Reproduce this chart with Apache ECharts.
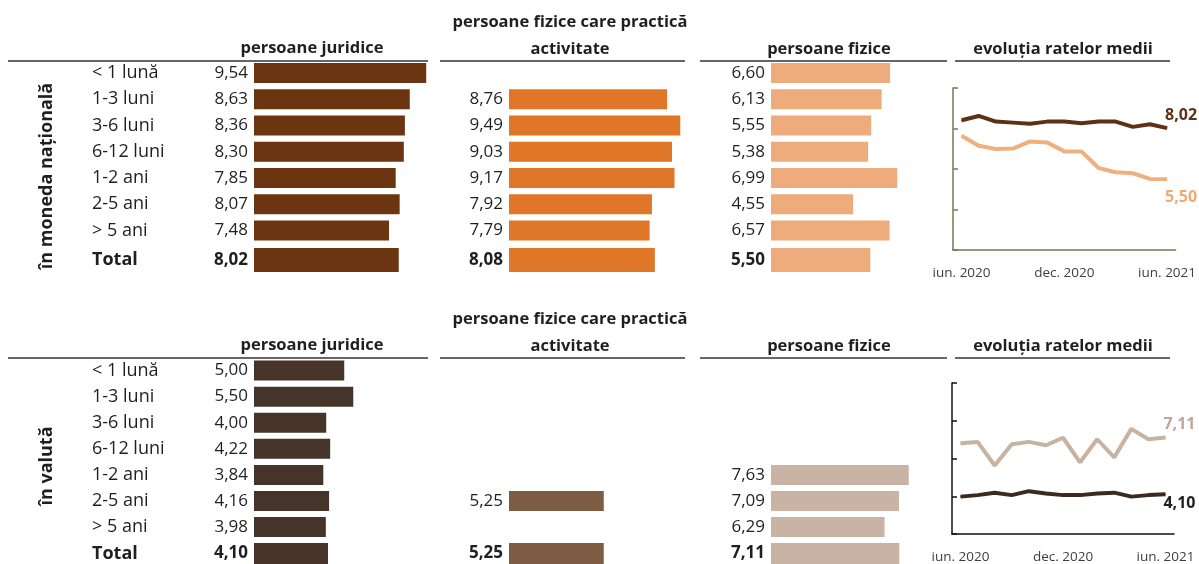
<!DOCTYPE html>
<html>
<head>
<meta charset="utf-8">
<script src="https://cdn.jsdelivr.net/npm/echarts@6/dist/echarts.min.js"></script>
<style>
  html, body { margin: 0; padding: 0; background: #fff; }
  #chart { width: 1199px; height: 564px; }
</style>
</head>
<body>
<div id="chart"></div>
<script>
// termene (scadente)
const termene = ['< 1 lună', '1-3 luni', '3-6 luni', '6-12 luni', '1-2 ani', '2-5 ani', '> 5 ani'];
const totalCat = ['Total'];

// rate medii, moneda nationala
const mdlJuridice = [9.54, 8.63, 8.36, 8.30, 7.85, 8.07, 7.48];
const mdlActivitate = [null, 8.76, 9.49, 9.03, 9.17, 7.92, 7.79];
const mdlFizice = [6.60, 6.13, 5.55, 5.38, 6.99, 4.55, 6.57];
const mdlTotal = [8.02, 8.08, 5.50];

// rate medii, valuta
const valJuridice = [5.00, 5.50, 4.00, 4.22, 3.84, 4.16, 3.98];
const valActivitate = [null, null, null, null, null, 5.25, null];
const valFizice = [null, null, null, null, 7.63, 7.09, 6.29];
const valTotal = [4.10, 5.25, 7.11];

// evolutia ratelor medii
const luni = ['iun. 2020', 'iul. 2020', 'aug. 2020', 'sep. 2020', 'oct. 2020', 'nov. 2020', 'dec. 2020',
  'ian. 2021', 'feb. 2021', 'mar. 2021', 'apr. 2021', 'mai 2021', 'iun. 2021'];
const evMdlJuridice = [8.41, 8.62, 8.34, 8.29, 8.24, 8.34, 8.34, 8.26, 8.34, 8.34, 8.08, 8.21, 8.02];
const evMdlFizice = [7.64, 7.15, 6.99, 7.01, 7.36, 7.31, 6.87, 6.87, 6.05, 5.84, 5.79, 5.51, 5.50];
const evValJuridice = [3.98, 4.06, 4.19, 4.06, 4.27, 4.15, 4.06, 4.06, 4.15, 4.19, 3.98, 4.06, 4.10];
const evValFizice = [6.81, 6.88, 5.63, 6.76, 6.88, 6.70, 7.10, 5.80, 7.02, 6.06, 7.57, 7.02, 7.11];

const FONT = '"Open Sans", sans-serif';
const TXT = '#1f1f1f';
const fmt = v => v.toFixed(2).replace('.', ',');

const grids = [], xAxes = [], yAxes = [], series = [];

function addBars(left, top, height, cats, vals, color, isTotal, showCats) {
  const i = grids.length;
  grids.push({ left, top, width: 180.5, height });
  xAxes.push({ gridIndex: i, type: 'value', min: 0, max: 10, show: false });
  yAxes.push({
    gridIndex: i, type: 'category', data: cats, inverse: true,
    axisLine: { show: false }, axisTick: { show: false }, splitLine: { show: false },
    axisLabel: {
      show: showCats, align: 'left', margin: left - 92, color: TXT,
      fontSize: 18, fontFamily: FONT, fontWeight: isTotal ? 'bold' : 'normal'
    }
  });
  series.push({
    type: 'bar', xAxisIndex: i, yAxisIndex: i, data: vals,
    barWidth: isTotal ? 24 : 20, itemStyle: { color }, silent: true,
    label: {
      show: true, position: 'left', distance: 6, color: TXT,
      fontSize: 17, fontFamily: FONT, fontWeight: isTotal ? 'bold' : 'normal',
      formatter: p => fmt(p.value)
    }
  });
}

function addLines(box, axisColor, lines) {
  const i = grids.length;
  grids.push(box);
  xAxes.push({
    gridIndex: i, type: 'category', data: luni, boundaryGap: true,
    axisLine: { lineStyle: { color: axisColor, width: 1.5 } },
    axisTick: { interval: 0, length: 5, lineStyle: { color: axisColor, width: 1.5 } },
    axisLabel: { interval: 5, margin: 16, color: '#404040', fontSize: 13.5, fontFamily: FONT }
  });
  yAxes.push({
    gridIndex: i, type: 'value', min: 2, max: 10, interval: 2,
    axisLine: { show: true, lineStyle: { color: axisColor, width: 1.5 } },
    axisTick: { show: true, inside: true, length: 5, lineStyle: { color: axisColor, width: 1.5 } },
    axisLabel: { show: false }, splitLine: { show: false }
  });
  lines.forEach(l => {
    const n = l.data.length;
    series.push({
      type: 'line', xAxisIndex: i, yAxisIndex: i, silent: true,
      symbol: 'circle', symbolSize: 1, showSymbol: true,
      lineStyle: { color: l.color, width: 4 }, itemStyle: { color: l.color },
      data: l.data.map((v, k) => k === n - 1 ? {
        value: v,
        label: {
          show: true, position: l.pos, distance: l.dist, offset: [14, 0],
          formatter: () => fmt(l.total), color: l.labelColor, fontSize: 16,
          fontWeight: 'bold', fontFamily: FONT
        }
      } : v)
    });
  });
}

// moneda nationala
addBars(254, 59.9, 183.75, termene, mdlJuridice, '#6a3510', false, true);
addBars(509, 59.9, 183.75, termene, mdlActivitate, '#e07628', false, false);
addBars(771, 59.9, 183.75, termene, mdlFizice, '#eeab7b', false, false);
addBars(254, 247, 26, totalCat, [mdlTotal[0]], '#6a3510', true, true);
addBars(509, 247, 26, totalCat, [mdlTotal[1]], '#e07628', true, false);
addBars(771, 247, 26, totalCat, [mdlTotal[2]], '#eeab7b', true, false);

// valuta
addBars(254, 357.5, 182.6, termene, valJuridice, '#46342a', false, true);
addBars(509, 357.5, 182.6, termene, valActivitate, '#7e5c44', false, false);
addBars(771, 357.5, 182.6, termene, valFizice, '#c8b3a4', false, false);
addBars(254, 543, 26, totalCat, [valTotal[0]], '#46342a', true, true);
addBars(509, 543, 26, totalCat, [valTotal[1]], '#7e5c44', true, false);
addBars(771, 543, 26, totalCat, [valTotal[2]], '#c8b3a4', true, false);

addLines({ left: 953, top: 88, width: 223, height: 162 }, '#77774f', [
  { data: evMdlJuridice, total: mdlTotal[0], color: '#5e3116', labelColor: '#5e3116', pos: 'top', dist: 4 },
  { data: evMdlFizice, total: mdlTotal[2], color: '#f0b07d', labelColor: '#f0aa75', pos: 'bottom', dist: 10 }
]);
addLines({ left: 952, top: 383, width: 222, height: 153 }, '#111', [
  { data: evValJuridice, total: valTotal[0], color: '#3a2a20', labelColor: '#1f1f1f', pos: 'bottom', dist: 1 },
  { data: evValFizice, total: valTotal[2], color: '#c8b2a2', labelColor: '#bfa797', pos: 'top', dist: 5 }
]);

// antete si linii
const heads = [];
function head(text, x, y) {
  heads.push({
    type: 'text', x, y, silent: true,
    style: { text, fill: TXT, fontSize: 16.5, fontWeight: 'bold', fontFamily: FONT, textAlign: 'center', textVerticalAlign: 'middle' }
  });
}
function rule(y) {
  [[8, 428], [440, 685], [700, 947], [955, 1170]].forEach(([a, b]) => {
    heads.push({ type: 'line', silent: true, shape: { x1: a, y1: y, x2: b, y2: y }, style: { stroke: '#333', lineWidth: 1.5 } });
  });
}
[[0, 61], [297, 358]].forEach(([d, ly]) => {
  head('persoane juridice', 312, 48 + d);
  head('persoane fizice care practică', 570, 22 + d);
  head('activitate', 570, 49 + d);
  head('persoane fizice', 829, 49 + d);
  head('evoluția ratelor medii', 1063, 49 + d);
  rule(ly);
});
heads.push({
  type: 'text', x: 47, y: 176, rotation: Math.PI / 2, silent: true,
  style: { text: 'în moneda națională', fill: TXT, fontSize: 18, fontWeight: 'bold', fontFamily: FONT, textAlign: 'center', textVerticalAlign: 'middle' }
});
heads.push({
  type: 'text', x: 47, y: 466, rotation: Math.PI / 2, silent: true,
  style: { text: 'în valută', fill: TXT, fontSize: 18, fontWeight: 'bold', fontFamily: FONT, textAlign: 'center', textVerticalAlign: 'middle' }
});

const chart = echarts.init(document.getElementById('chart'));
chart.setOption({
  animation: false,
  backgroundColor: '#fff',
  grid: grids,
  xAxis: xAxes,
  yAxis: yAxes,
  series,
  graphic: heads
});
</script>
</body>
</html>
